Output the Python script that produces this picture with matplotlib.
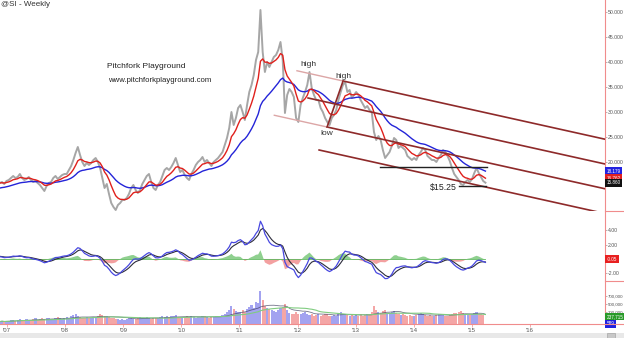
import numpy as np
import pandas as pd
import matplotlib
matplotlib.use("Agg")
import matplotlib.pyplot as plt
from matplotlib.patches import Rectangle

plt.rcParams["font.family"] = ["Liberation Sans", "DejaVu Sans"]

# Silver futures (@SI), closes sampled every 14 days
first_date = "2006-11-17"
close_2006 = [15.8, 16.0, 15.6, 16.2]
close_2007 = [16.4, 16.8, 17.2, 16.8, 17.0, 17.6, 16.8, 16.4, 16.6, 17.0, 16.4, 16.0, 16.2,
              15.8, 15.4, 14.8, 14.2, 15.2, 15.8, 16.0, 16.8, 17.2, 16.6, 17.0, 17.4, 17.6]
close_2008 = [17.6, 18.4, 19.2, 20.4, 21.8, 23.0, 21.4, 20.0, 19.2, 19.8, 19.4, 19.8, 20.4,
              20.8, 20.0, 18.8, 16.8, 14.8, 15.6, 13.6, 11.8, 11.0, 10.4, 11.4, 11.8, 12.4]
close_2009 = [12.4, 12.8, 13.6, 14.8, 15.4, 14.4, 13.8, 14.4, 15.6, 16.4, 17.2, 17.6, 16.0,
              14.8, 14.4, 15.4, 16.0, 17.2, 18.4, 18.8, 18.4, 19.0, 19.8, 20.8, 19.4, 18.0]
close_2010 = [18.4, 17.4, 16.8, 16.4, 17.6, 18.4, 19.4, 20.0, 20.4, 21.0, 20.0, 20.4, 19.8,
              19.2, 20.0, 20.4, 20.8, 21.4, 22.0, 23.4, 24.8, 26.8, 30.0, 27.4, 28.8, 30.8]
close_2011 = [31.4, 30.0, 28.4, 31.4, 34.0, 35.4, 37.4, 40.4, 42.0, 50.4, 42.0, 38.0, 40.0,
              39.0, 40.0, 41.0, 41.4, 42.4, 44.0, 40.4, 29.8, 33.4, 34.6, 34.0, 33.0, 28.8]
close_2012 = [28.0, 31.4, 32.8, 34.0, 35.4, 38.0, 34.8, 33.4, 32.4, 32.4, 30.8, 30.0, 28.8,
              28.0, 27.4, 28.8, 29.4, 30.4, 32.4, 34.0, 35.4, 36.0, 34.0, 34.4, 32.8, 33.4]
close_2013 = [34.0, 33.4, 32.4, 31.6, 30.8, 31.2, 30.4, 30.0, 26.0, 24.4, 25.2, 24.4, 22.4,
              20.8, 21.4, 22.0, 23.2, 24.8, 24.4, 22.8, 23.2, 22.8, 22.4, 21.2, 20.8, 20.4]
close_2014 = [20.8, 20.4, 21.4, 22.0, 22.8, 22.4, 21.2, 20.8, 20.4, 20.4, 20.0, 20.8, 21.4,
              22.4, 22.0, 21.2, 20.2, 18.8, 17.6, 17.0, 16.4, 15.6, 15.4, 16.0, 16.4, 16.0]
close_2015 = [16.6, 17.8, 18.8, 17.8, 17.0, 16.2, 15.86]

# volume in thousands of contracts per period (last one is the open week)
vol_2006 = [60, 80, 50, 70]
vol_2007 = [70, 90, 110, 80, 100, 120, 90, 110, 130, 100, 90, 120, 140,
            110, 130, 150, 120, 160, 140, 120, 130, 150, 170, 140, 120, 150]
vol_2008 = [170, 150, 190, 230, 260, 200, 180, 160, 150, 170, 140, 160, 180,
            150, 200, 250, 230, 210, 190, 170, 150, 140, 120, 130, 110, 120]
vol_2009 = [110, 130, 150, 140, 120, 130, 150, 170, 140, 160, 180, 150, 130,
            140, 160, 150, 170, 190, 180, 200, 170, 190, 210, 230, 180, 160]
vol_2010 = [170, 180, 200, 170, 190, 180, 160, 170, 180, 200, 190, 170, 160,
            180, 170, 190, 210, 200, 230, 260, 300, 340, 450, 380, 320, 290]
vol_2011 = [310, 350, 300, 380, 420, 480, 400, 560, 520, 830, 600, 450, 400,
            380, 350, 330, 300, 350, 400, 420, 500, 350, 280, 250, 240, 300]
vol_2012 = [260, 240, 280, 300, 260, 220, 240, 200, 230, 250, 210, 230, 260,
            240, 200, 190, 220, 210, 250, 300, 260, 240, 220, 200, 230, 210]
vol_2013 = [220, 200, 240, 210, 230, 250, 260, 300, 450, 350, 300, 280, 320,
            350, 280, 260, 300, 320, 280, 250, 230, 240, 220, 210, 230, 200]
vol_2014 = [210, 230, 250, 270, 240, 220, 200, 230, 210, 190, 220, 240, 260,
            230, 210, 200, 230, 250, 280, 270, 300, 320, 280, 250, 230, 220]
vol_2015 = [250, 280, 300, 260, 240, 230, 0.589]

year_ticks = [2007, 2008, 2009, 2010, 2011, 2012, 2013, 2014, 2015, 2016]
year_labels = ["'07", "'08", "'09", "'10", "'11", "'12", "'13", "'14", "'15", "'16"]

# Schiff pitchfork anchors: (decimal year, price)
pf_high1 = (2012.181, 38.6)
pf_low = (2012.508, 27.0)
pf_high2 = (2012.783, 36.2)
pf_back_upper = 2011.99     # faded extension of the upper tine starts here
pf_back_lower = 2011.60     # faded extension of the lower tine starts here

support_level = 19.0
support_span = (2013.42, 2015.26)
low_level = 15.25
low_span = (2014.78, 2015.24)

close = np.array(close_2006 + close_2007 + close_2008 + close_2009 + close_2010 +
                 close_2011 + close_2012 + close_2013 + close_2014 + close_2015)
volume = 1000.0 * np.array(vol_2006 + vol_2007 + vol_2008 + vol_2009 + vol_2010 +
                           vol_2011 + vol_2012 + vol_2013 + vol_2014 + vol_2015)
dates = pd.date_range(first_date, periods=len(close), freq="14D")
t = (dates.year + (dates.dayofyear - 1) / 365.25).to_numpy()


def ema(values, span, seed):
    a = 2.0 / (span + 1.0)
    out = np.empty(len(values))
    prev = seed
    for i, v in enumerate(values):
        prev = prev + a * (v - prev)
        out[i] = prev
    return out


fast = ema(close, 7, 15.8)
slow = ema(close, 24, 14.7)
macd = ema(close, 6, close[0] + 0.2) - ema(close, 13, close[0] - 0.2)
signal = ema(macd, 4.5, 0.4)
hist = macd - signal
vol_ma = pd.Series(volume).rolling(26, min_periods=1).mean().to_numpy()
vol_ma_short = pd.Series(volume).rolling(13, min_periods=1).mean().to_numpy()

W, H = 624, 338
fig = plt.figure(figsize=(W / 100, H / 100), dpi=100)
AXR = "#f08c8c"
LBL = "#555555"


def panel(top, bottom, labelsize=3.7):
    ax = fig.add_axes([0, 1 - bottom / H, 605 / W, (bottom - top) / H])
    for s in ("left", "top", "bottom"):
        ax.spines[s].set_visible(False)
    ax.spines["right"].set_color(AXR)
    ax.spines["right"].set_linewidth(0.8)
    ax.yaxis.tick_right()
    ax.tick_params(axis="y", direction="out", length=1.5, width=0.5, color="#999999",
                   labelsize=labelsize, labelcolor=LBL, pad=0.6)
    ax.set_xlim(2006.88, 2017.29)
    return ax


ax_p = panel(0, 211)
ax_m = panel(211, 281)
ax_v = panel(281, 324, labelsize=3.2)
for ax in (ax_p, ax_m):
    ax.tick_params(axis="x", bottom=False, labelbottom=False)

# ---- price panel
ax_p.set_ylim(10.2, 52.4)
ax_p.set_yticks([20, 25, 30, 35, 40, 45, 50])
ax_p.set_yticklabels([f"{v:.3f}" for v in [20, 25, 30, 35, 40, 45, 50]])
ax_p.plot(t, close, color="#a6a6a6", lw=1.4, zorder=2)
ax_p.plot(t, slow, color="#2424d8", lw=1.0, zorder=3)
ax_p.plot(t, fast, color="#e0201c", lw=1.0, zorder=4)

pf_dark = "#8e2a2a"
pf_light = "#dca6a6"
pivot = (pf_high1[0], (pf_high1[1] + pf_low[1]) / 2)
mid = ((pf_low[0] + pf_high2[0]) / 2, (pf_low[1] + pf_high2[1]) / 2)
slope = (mid[1] - pivot[1]) / (mid[0] - pivot[0])
x_end = 2017.6


def ray(p0, x1):
    return [p0[0], x1], [p0[1], p0[1] + slope * (x1 - p0[0])]


warn = (2 * pf_low[0] - mid[0], 2 * pf_low[1] - mid[1])
for anchor in (pivot, pf_high2, pf_low, warn):
    xs, ys = ray(anchor, x_end)
    ax_p.plot(xs, ys, color=pf_dark, lw=1.2, zorder=5)
for anchor, back in ((pf_high2, pf_back_upper), (pf_low, pf_back_lower)):
    xs, ys = ray(anchor, back)
    ax_p.plot(xs, ys, color=pf_light, lw=1.0, zorder=5)
ax_p.plot([pf_low[0], pf_high2[0]], [pf_low[1], pf_high2[1]], color=pf_dark, lw=1.2, zorder=5)

ax_p.plot(support_span, [support_level] * 2, color="#222222", lw=1.0, zorder=6)
ax_p.plot(low_span, [low_level] * 2, color="#222222", lw=1.0, zorder=6)
ax_p.annotate(f"${low_level:.2f}", (low_span[0], low_level), xytext=(-1.5, -1.0),
              textcoords="offset points", ha="right", va="center", fontsize=6.3, color="#222222")

ax_p.annotate("high", pf_high1, xytext=(0, 3.6), textcoords="offset points",
              ha="center", va="center", fontsize=6, color="#333333")
ax_p.annotate("high", pf_high2, xytext=(0, 3.6), textcoords="offset points",
              ha="center", va="center", fontsize=6, color="#333333")
ax_p.annotate("low", pf_low, xytext=(0, -4.5), textcoords="offset points",
              ha="center", va="center", fontsize=6, color="#333333")

# ---- MACD panel
ax_m.set_ylim(-3.06, 6.67)
ax_m.set_yticks([-2, 2, 4])
ax_m.set_yticklabels([f"{v:.2f}" for v in [-2, 2, 4]])
ax_m.fill_between(t, 0, hist, where=hist >= 0, color="#8fd08f", lw=0, interpolate=True)
ax_m.fill_between(t, 0, hist, where=hist < 0, color="#f3a0a0", lw=0, interpolate=True)
ax_m.plot([t[0], t[-1]], [0, 0], color="#5cb85c", lw=0.6)
ax_m.plot(t, signal, color="#2c2c3c", lw=0.8)
ax_m.plot(t, macd, color="#4848e0", lw=0.9)

# ---- volume panel
ax_v.set_ylim(0, 1075000)
ax_v.set_yticks([300000, 500000, 700000])
ax_v.set_yticklabels([f"{v:,.0f}" for v in [300000, 500000, 700000]])
up = np.r_[True, close[1:] >= close[:-1]]
ax_v.bar(t, volume, width=0.036, color=np.where(up, "#a3a3f0", "#f4a6a6"), lw=0)
ax_v.plot(t, vol_ma_short, color="#3a3a5a", lw=0.6, alpha=0.7)
ax_v.plot(t, vol_ma, color="#80cc80", lw=0.8)
ax_v.spines["bottom"].set_visible(True)
ax_v.spines["bottom"].set_color(AXR)
ax_v.spines["bottom"].set_linewidth(0.8)
ax_v.set_xticks(year_ticks)
ax_v.set_xticklabels(year_labels)
ax_v.tick_params(axis="x", direction="out", length=2, width=0.5, color=AXR,
                 labelsize=4.3, labelcolor=LBL, pad=1)


def tag(ax, y, text, face, fg="white", dy=0.0):
    ax.annotate(text, (1.003, y), xycoords=ax.get_yaxis_transform(), xytext=(0, dy),
                textcoords="offset points", ha="left", va="center",
                fontsize=3.3, color=fg, zorder=10, annotation_clip=False,
                bbox=dict(boxstyle="square,pad=0.3", fc=face, ec="none"))


tag(ax_p, slow[-1], f"{slow[-1]:.3f}", "#2323e0")
tag(ax_p, fast[-1], f"{fast[-1]:.3f}", "#e02020")
tag(ax_p, close[-1], f"{close[-1]:.3f}", "#111111")
tag(ax_m, hist[-1], f"{hist[-1]:.2f}", "#e82020")
tag(ax_v, vol_ma[-1], f"{vol_ma[-1]:,.0f}", "#2a9a2a", dy=-1.5)
tag(ax_v, volume[-1], f"{volume[-1]:,.0f}", "#2020e0")

# separators in the scale column
for yy in (211, 281, 324):
    fig.add_artist(plt.Line2D([605 / W, 1], [1 - yy / H] * 2, color=AXR, lw=0.8))

# titles and captions
fig.text(1 / W, 1 - 5 / H, "@SI - Weekly", fontsize=5.8, color="#333333", va="center")
fig.text(107 / W, 1 - 67 / H, "Pitchfork Playground", fontsize=6, color="#222222", va="center")
fig.text(108 / W, 1 - 80 / H, "www.pitchforkplayground.com", fontsize=5.6, color="#222222", va="center")

# scroll bar strip
fig.add_artist(Rectangle((0, 0), 1, 5 / H, transform=fig.transFigure, fc="#e8e8e8", ec="none"))
fig.add_artist(Rectangle((607 / W, 0.3 / H), 8 / W, 4.4 / H, transform=fig.transFigure,
                         fc="#c8c8c8", ec="#9a9a9a", lw=0.4))

fig.savefig("out.png", dpi=100, facecolor="white")
